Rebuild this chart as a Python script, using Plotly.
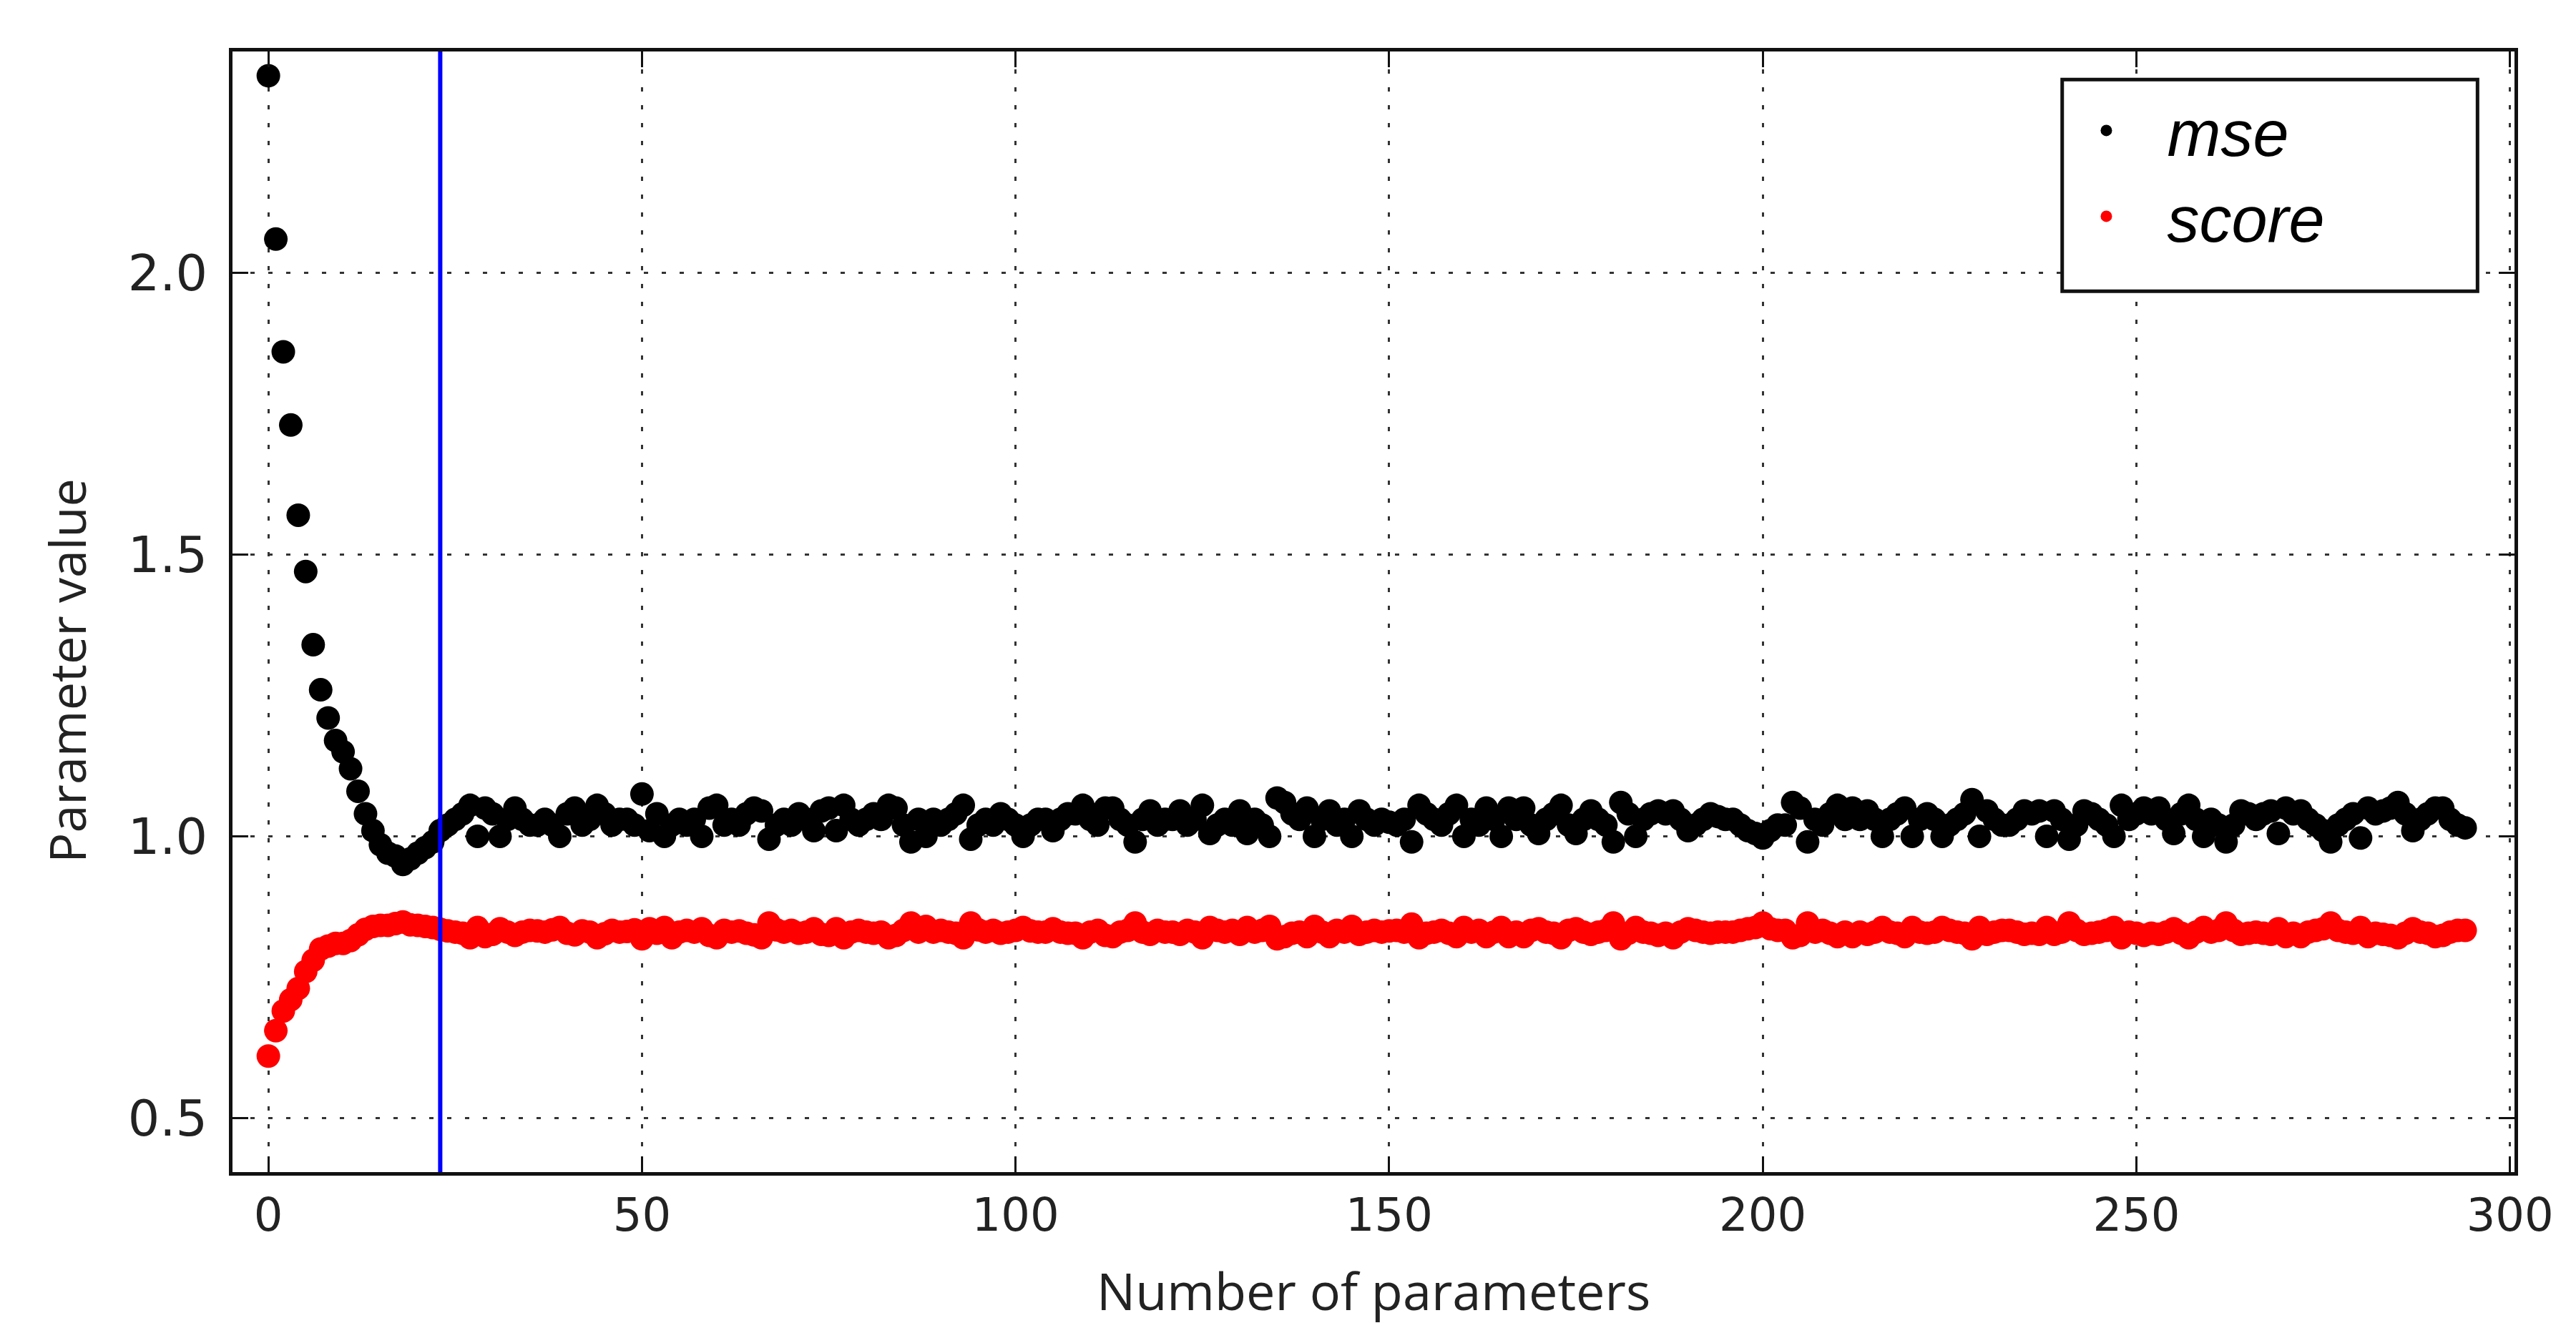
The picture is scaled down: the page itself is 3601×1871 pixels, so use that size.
import plotly.graph_objects as go

# mse for 0..294 parameters
mse = [
    2.35, 2.06, 1.86, 1.73, 1.57, 1.47, 1.34, 1.26, 1.21, 1.17,
    1.15, 1.12, 1.08, 1.04, 1.01, 0.985, 0.97, 0.965, 0.95, 0.96,
    0.97, 0.98, 0.99, 1.01,
    1.02, 1.03, 1.04, 1.055, 1.00, 1.05, 1.04, 1.00, 1.03, 1.05,
    1.03, 1.02, 1.02, 1.03, 1.02, 1.00, 1.04, 1.05, 1.02, 1.03,
    1.055, 1.04, 1.02, 1.03, 1.03, 1.02, 1.075, 1.01, 1.04, 1.00,
    1.02, 1.03, 1.02, 1.03, 1.00, 1.05, 1.055, 1.02, 1.03, 1.02,
    1.04, 1.05, 1.045, 0.995, 1.02, 1.03, 1.02, 1.04, 1.03, 1.01,
    1.045, 1.05, 1.01, 1.055, 1.03, 1.02, 1.03, 1.04, 1.03, 1.055,
    1.05, 1.02, 0.99, 1.03, 1.00, 1.03, 1.02, 1.03, 1.04, 1.055,
    0.995, 1.02, 1.03, 1.02, 1.04, 1.03, 1.02, 1.00, 1.02, 1.03,
    1.03, 1.01, 1.03, 1.04, 1.04, 1.055, 1.03, 1.02, 1.05, 1.05,
    1.03, 1.02, 0.99, 1.03, 1.045, 1.02, 1.03, 1.03, 1.045, 1.02,
    1.03, 1.055, 1.005, 1.02, 1.03, 1.02, 1.045, 1.005, 1.03, 1.02,
    1.00, 1.068, 1.06, 1.04, 1.03, 1.05, 1.00, 1.03, 1.045, 1.02,
    1.03, 1.00, 1.045, 1.03, 1.02, 1.03, 1.025, 1.02, 1.03, 0.99,
    1.055, 1.04, 1.03, 1.02, 1.04, 1.055, 1.00, 1.03, 1.02, 1.05,
    1.03, 1.00, 1.05, 1.03, 1.05, 1.02, 1.005, 1.03, 1.04, 1.055,
    1.02, 1.005, 1.03, 1.045, 1.03, 1.02, 0.99, 1.06, 1.04, 1.00,
    1.03, 1.04, 1.045, 1.04, 1.045, 1.03, 1.01, 1.02, 1.03, 1.04,
    1.035, 1.03, 1.03, 1.02, 1.01, 1.005, 0.997, 1.01, 1.02, 1.02,
    1.06, 1.05, 0.99, 1.03, 1.02, 1.04, 1.055, 1.03, 1.05, 1.03,
    1.045, 1.03, 1.00, 1.03, 1.04, 1.05, 1.00, 1.03, 1.04, 1.03,
    1.00, 1.02, 1.03, 1.04, 1.065, 1.00, 1.045, 1.03, 1.02, 1.02,
    1.03, 1.045, 1.04, 1.045, 1.00, 1.045, 1.03, 0.995, 1.02, 1.045,
    1.04, 1.03, 1.02, 1.00, 1.055, 1.03, 1.04, 1.05, 1.04, 1.05,
    1.03, 1.005, 1.04, 1.055, 1.03, 1.00, 1.03, 1.02, 0.99, 1.02,
    1.045, 1.04, 1.03, 1.04, 1.045, 1.005, 1.05, 1.04, 1.045, 1.03,
    1.02, 1.01, 0.99, 1.02, 1.03, 1.04, 0.997, 1.05, 1.04, 1.045,
    1.05, 1.06, 1.04, 1.01, 1.03, 1.04, 1.05, 1.05, 1.03, 1.02,
    1.015,
]

score = [
    0.61, 0.655, 0.69, 0.71, 0.73, 0.76, 0.78, 0.80, 0.805, 0.81,
    0.81, 0.815, 0.825, 0.835, 0.84, 0.842, 0.842, 0.845, 0.848, 0.843,
    0.842, 0.84, 0.838, 0.835,
    0.832, 0.83, 0.828, 0.82, 0.838, 0.822, 0.826, 0.836, 0.83, 0.824,
    0.83, 0.833, 0.832, 0.83, 0.834, 0.838, 0.828, 0.825, 0.832, 0.83,
    0.82, 0.827, 0.833, 0.83, 0.831, 0.834, 0.818, 0.836, 0.828, 0.838,
    0.82, 0.83, 0.833, 0.83, 0.836, 0.824, 0.82, 0.833, 0.83, 0.832,
    0.828, 0.825, 0.82, 0.846, 0.834, 0.83, 0.833, 0.828, 0.83, 0.836,
    0.826, 0.824, 0.836, 0.82, 0.83, 0.833, 0.83, 0.828, 0.83, 0.82,
    0.824, 0.833, 0.846, 0.83, 0.84, 0.83, 0.833, 0.83, 0.828, 0.82,
    0.846, 0.834, 0.83, 0.833, 0.828, 0.83, 0.833, 0.838, 0.832, 0.83,
    0.83, 0.836, 0.83, 0.828, 0.828, 0.82, 0.83, 0.833, 0.824, 0.822,
    0.83, 0.833, 0.846, 0.83, 0.826, 0.833, 0.83, 0.83, 0.826, 0.833,
    0.83, 0.82, 0.838, 0.833, 0.83, 0.833, 0.826, 0.838, 0.83, 0.833,
    0.84, 0.818, 0.822, 0.828, 0.83, 0.822, 0.84, 0.83, 0.822, 0.833,
    0.83, 0.84, 0.826, 0.83, 0.833, 0.83, 0.832, 0.833, 0.83, 0.844,
    0.82, 0.828, 0.83, 0.833, 0.828, 0.822, 0.838, 0.83, 0.833, 0.822,
    0.83, 0.838, 0.822, 0.83, 0.822, 0.833, 0.836, 0.83, 0.828, 0.82,
    0.833, 0.836, 0.83, 0.826, 0.83, 0.833, 0.846, 0.818, 0.828, 0.838,
    0.83, 0.828, 0.824, 0.828, 0.82, 0.83, 0.836, 0.833, 0.83, 0.828,
    0.83, 0.83, 0.83, 0.833, 0.836, 0.838, 0.846, 0.836, 0.833, 0.833,
    0.82, 0.824, 0.846, 0.83, 0.833, 0.828, 0.822, 0.83, 0.822, 0.83,
    0.826, 0.83, 0.838, 0.83, 0.828, 0.822, 0.838, 0.83, 0.828, 0.83,
    0.838, 0.833, 0.83, 0.828, 0.818, 0.838, 0.826, 0.83, 0.833, 0.833,
    0.83, 0.826, 0.828, 0.826, 0.838, 0.826, 0.83, 0.846, 0.833, 0.826,
    0.828, 0.83, 0.833, 0.838, 0.82, 0.83, 0.828, 0.824, 0.828, 0.826,
    0.83, 0.836, 0.828, 0.82, 0.83, 0.838, 0.83, 0.833, 0.846, 0.833,
    0.826, 0.828, 0.83, 0.828, 0.826, 0.836, 0.822, 0.828, 0.822, 0.83,
    0.833, 0.836, 0.846, 0.833, 0.83, 0.828, 0.838, 0.822, 0.828, 0.826,
    0.824, 0.82, 0.828, 0.836, 0.83, 0.828, 0.822, 0.824, 0.83, 0.833,
    0.833,
]

x_ticks = [0, 50, 100, 150, 200, 250, 300]
y_ticks = [0.5, 1.0, 1.5, 2.0]
cutoff = 23

title_font = dict(family="Open Sans", size=72, color="#222")
grid_dash = "6px,19px"

fig = go.Figure()
fig.add_trace(go.Scatter(
    x=list(range(len(mse))), y=mse, mode="markers", name="mse",
    marker=dict(color="black", size=33, line_width=0),
))
fig.add_trace(go.Scatter(
    x=list(range(len(score))), y=score, mode="markers", name="score",
    marker=dict(color="#ff0000", size=33, line_width=0),
))

fig.add_shape(type="line", xref="x", yref="paper", x0=cutoff, x1=cutoff, y0=0, y1=1,
              line=dict(color="#0000ff", width=6), layer="above")

# legend frame
fig.add_shape(type="rect", xref="paper", yref="paper", x0=0.8018, x1=0.9838, y0=0.786, y1=0.975,
              line=dict(color="#111", width=5), fillcolor="white", layer="above")

fig.add_annotation(text="Number of parameters", xref="paper", yref="paper", x=0.5, y=-0.105,
                   showarrow=False, font=title_font, xanchor="center", yanchor="middle")
fig.add_annotation(text="Parameter value", xref="paper", yref="paper", x=-0.073, y=0.447,
                   showarrow=False, font=dict(family="Open Sans", size=70, color="#222"),
                   textangle=-90, xanchor="center", yanchor="middle")

axis_common = dict(
    showline=True, linecolor="#111", linewidth=5, mirror="ticks",
    ticks="inside", ticklen=22, tickwidth=3, tickcolor="#111",
    showgrid=True, gridcolor="#333", gridwidth=3, griddash=grid_dash,
    zeroline=False,
)

fig.update_xaxes(range=[-4.8, 300.6], tickvals=x_ticks, ticklabelstandoff=0,
                 tickfont=dict(family="DejaVu Sans", size=64, color="#222"), **axis_common)
fig.update_yaxes(range=[0.404, 2.393], tickvals=y_ticks, tickformat=".1f", ticklabelstandoff=16,
                 tickfont=dict(family="DejaVu Sans", size=70, color="#222"), **axis_common)

fig.update_layout(
    width=3601, height=1871,
    margin=dict(l=317, r=94, t=64, b=240),
    paper_bgcolor="white", plot_bgcolor="white",
    showlegend=True,
    legend=dict(
        x=0.7945, y=0.971, xanchor="left", yanchor="top",
        bgcolor="rgba(0,0,0,0)", borderwidth=0, itemwidth=160,
        font=dict(family="Liberation Sans", size=90, color="black", style="italic"),
    ),
)

fig.write_html("out.html")
